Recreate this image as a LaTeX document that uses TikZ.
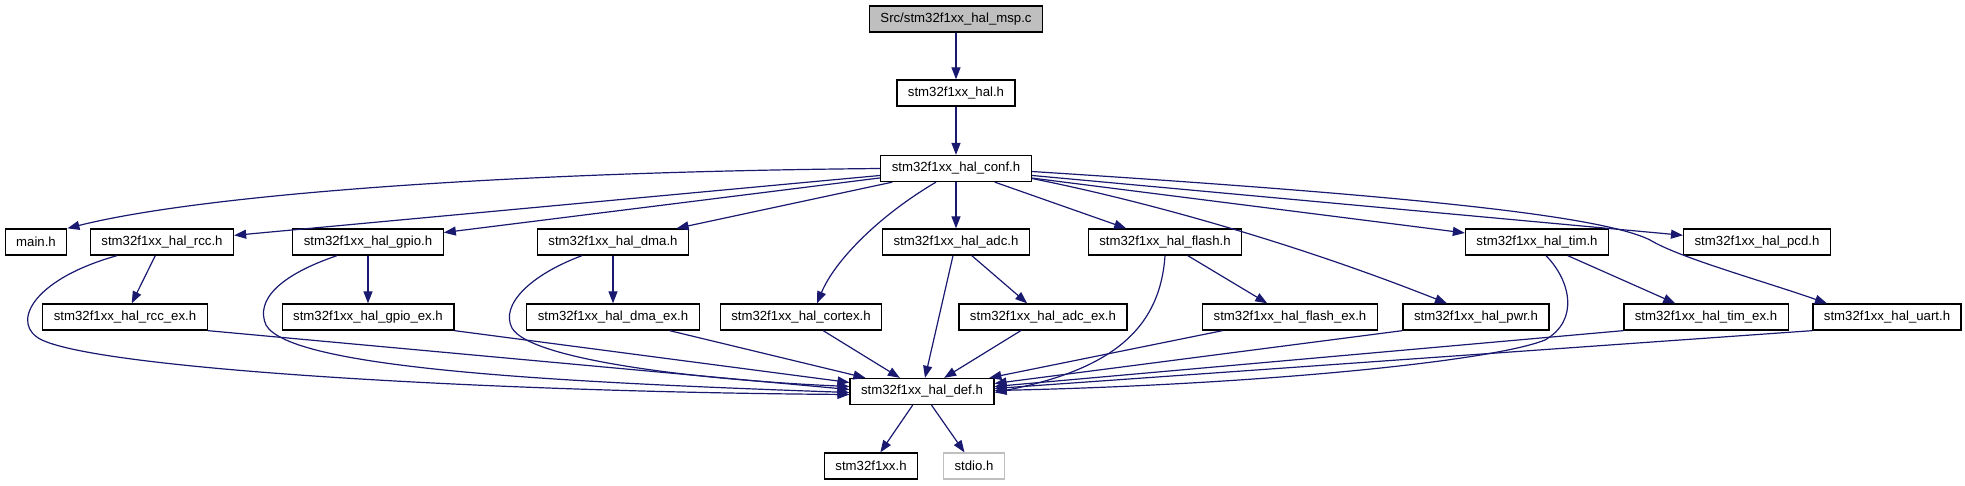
\documentclass[tikz,border=0pt]{standalone}
\usepackage{fontspec}
\setmainfont{Liberation Sans}
\usetikzlibrary{arrows.meta}
\definecolor{edgeblue}{HTML}{191970}
\definecolor{rootgray}{HTML}{BFBFBF}

\begin{document}
\begin{tikzpicture}[
  x=1pt, y=-1pt,
  file/.style={rectangle, draw=black, line width=1.3pt, minimum height=26pt, inner xsep=11pt, inner ysep=0pt, font=\fontsize{13.2}{15}\selectfont},
  root/.style={file, fill=rootgray},
  ext/.style={file, draw=rootgray},
  dep/.style={-{Triangle[length=12pt,width=9pt]}, edgeblue, line width=1.2pt}
]
\useasboundingbox (0,0) rectangle (1965,485);

% Source file and top headers
\node[root] (msp) at (956,19) {Src/stm32f1xx\_hal\_msp.c};
\node[file] (hal) at (956,93) {stm32f1xx\_hal.h};
\node[file] (conf) at (956,168.5) {stm32f1xx\_hal\_conf.h};

% Modules included by the config header
\node[file] (mainh) at (36,242) {main.h};
\node[file] (rcc) at (162,242) {stm32f1xx\_hal\_rcc.h};
\node[file] (gpio) at (368,242) {stm32f1xx\_hal\_gpio.h};
\node[file] (dma) at (613,242) {stm32f1xx\_hal\_dma.h};
\node[file] (adc) at (956,242) {stm32f1xx\_hal\_adc.h};
\node[file] (flash) at (1165,242) {stm32f1xx\_hal\_flash.h};
\node[file] (tim) at (1537,242) {stm32f1xx\_hal\_tim.h};
\node[file] (pcd) at (1757,242) {stm32f1xx\_hal\_pcd.h};

% Extension headers
\node[file] (rccex) at (125,317) {stm32f1xx\_hal\_rcc\_ex.h};
\node[file] (gpioex) at (368,317) {stm32f1xx\_hal\_gpio\_ex.h};
\node[file] (dmaex) at (613,317) {stm32f1xx\_hal\_dma\_ex.h};
\node[file] (cortex) at (801,317) {stm32f1xx\_hal\_cortex.h};
\node[file] (adcex) at (1043,317) {stm32f1xx\_hal\_adc\_ex.h};
\node[file] (flashex) at (1290,317) {stm32f1xx\_hal\_flash\_ex.h};
\node[file] (pwr) at (1476,317) {stm32f1xx\_hal\_pwr.h};
\node[file] (timex) at (1706,317) {stm32f1xx\_hal\_tim\_ex.h};
\node[file] (uart) at (1887,317) {stm32f1xx\_hal\_uart.h};

% Common definitions
\node[file] (def) at (922,391.5) {stm32f1xx\_hal\_def.h};
\node[file] (dev) at (871,466) {stm32f1xx.h};
\node[ext] (stdio) at (974,466) {stdio.h};

% Top chain
\draw[dep] (msp) -- (hal);
\draw[dep] (hal) -- (conf);

% From the config header
\draw[dep] (conf.west) .. controls (500,172) and (200,195) .. (mainh.north east);
\draw[dep] (conf) -- (rcc);
\draw[dep] (conf) -- (gpio);
\draw[dep] (conf) -- (dma);
\draw[dep] ([xshift=-20pt]conf.south) .. controls (880,215) and (835,260) .. ([xshift=16pt]cortex.north);
\draw[dep] (conf) -- (adc);
\draw[dep] (conf) -- (flash);
\draw[dep] ([yshift=-10pt]conf.east) .. controls (1150,202) and (1300,245) .. ([xshift=-29pt]pwr.north);
\draw[dep] (conf) -- (tim);
\draw[dep] (conf) -- (pcd);
\draw[dep] ([yshift=-3pt]conf.east) .. controls (1400,195) and (1600,215) .. (1650,240)
  .. controls (1680,258) and (1760,280) .. ([xshift=-60pt]uart.north);

% Module to extension
\draw[dep] (rcc) -- (rccex);
\draw[dep] (gpio) -- (gpioex);
\draw[dep] (dma) -- (dmaex);
\draw[dep] (adc) -- (adcex);
\draw[dep] (flash) -- (flashex);
\draw[dep] (tim) -- (timex);

% Into the definitions header, left side
\draw[dep] ([xshift=-45pt]rcc.south) .. controls (30,280) and (10,325) .. (42,340)
  .. controls (106,370) and (500,392) .. ([yshift=-3pt]def.west);
\draw[dep] ([xshift=-31pt]gpio.south) .. controls (280,275) and (255,300) .. (266,325)
  .. controls (290,368) and (550,382) .. ([yshift=-1pt]def.west);
\draw[dep] ([xshift=-31pt]dma.south) .. controls (530,275) and (500,305) .. (512,328)
  .. controls (530,360) and (700,380) .. ([yshift=5pt]def.west);
\draw[dep] (rccex.south east) -- ([yshift=2pt]def.west);
\draw[dep] (gpioex.south east) -- ([yshift=9pt]def.west);
\draw[dep] (dmaex) -- (def);
\draw[dep] (cortex) -- (def);
\draw[dep] ([xshift=-3pt]adc.south) -- ([xshift=3pt]def.north);
\draw[dep] (adcex) -- (def);

% Into the definitions header, right side
\draw[dep] (flash.south) .. controls (1160,330) and (1110,370) .. ([yshift=-1pt]def.east);
\draw[dep] (flashex) -- (def);
\draw[dep] (pwr.south west) -- ([yshift=8pt]def.east);
\draw[dep] (timex.south west) -- ([yshift=5pt]def.east);
\draw[dep] (uart.south west) -- ([yshift=3pt]def.east);
\draw[dep] ([xshift=9pt]tim.south) .. controls (1570,280) and (1580,320) .. (1545,340)
  .. controls (1490,362) and (1250,385) .. ([yshift=1pt]def.east);

% Bottom
\draw[dep] (def) -- (dev);
\draw[dep] (def) -- (stdio);

\end{tikzpicture}
\end{document}
